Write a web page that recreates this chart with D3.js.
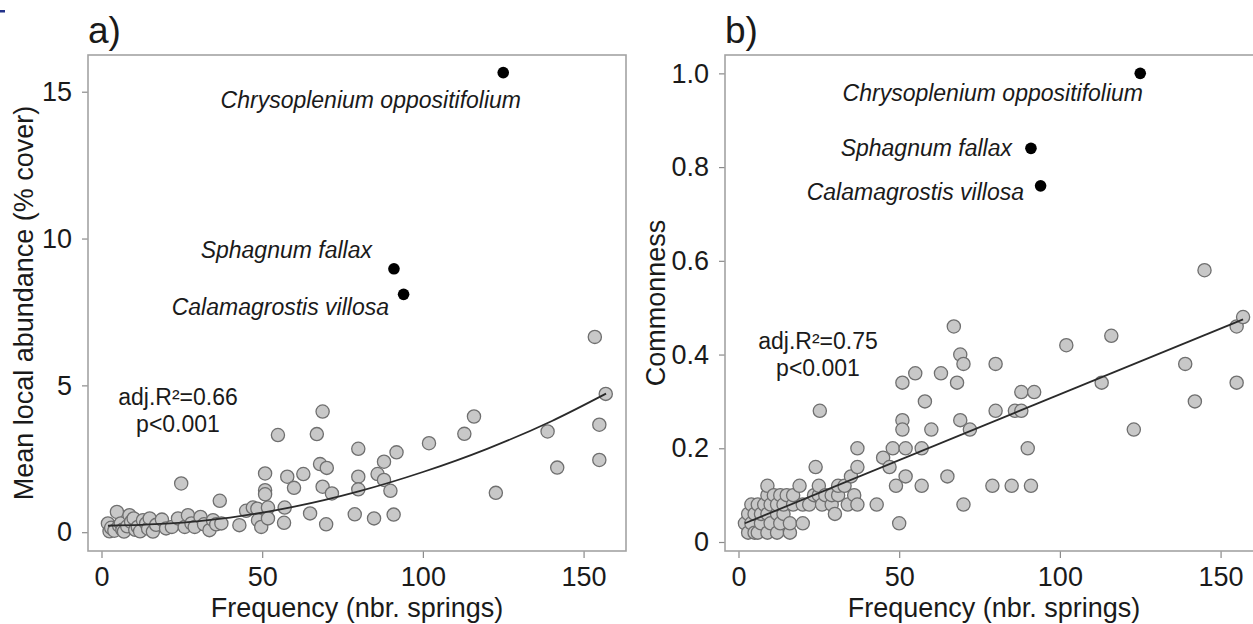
<!DOCTYPE html>
<html><head><meta charset="utf-8">
<script src="https://cdn.jsdelivr.net/npm/d3@7"></script>
<style>
body{margin:0;background:#fff}
svg{display:block}
text{font-family:"Liberation Sans",Arial,sans-serif;fill:#1a1a1a}
</style>
</head><body>
<svg id="chart" width="1253" height="624"></svg>
<script>
// ---------------- data ----------------
const xTicks = [0, 50, 100, 150];
const yTicksA = [0, 5, 10, 15];
const yTickLabelsA = ["0", "5", "10", "15"];
const yTicksB = [0, 0.2, 0.4, 0.6, 0.8, 1.0];
const yTickLabelsB = ["0", "0.2", "0.4", "0.6", "0.8", "1.0"];

// panel a: frequency vs mean local abundance (grey species)
const freqA = [2,2.5,3,4,4.8,5.5,6,6.5,7,8,8.7,9.2,10,10.5,11.3,12,12.9,13.9,14.5,15,16,17,18.8,20.1,21.9,23.8,24.8,25.9,26.9,28,29,30.8,31.9,33.6,34.7,35.7,36.8,37.3,
  42.9,45,47.1,48.5,48.7,49.7,50.9,50.9,50.9,51.8,51.8,54.9,56.8,57,57.8,59.9,62.8,64.9,67,68,68.8,68.8,69.9,70.1,71.7,
  78.8,79.9,79.9,79.9,84.8,85.9,87.9,87.9,89.9,90.9,91.8,101.9,112.9,115.9,122.7,138.8,141.8,153.5,154.9,154.9,156.9];
const abundA = [0.30,0.03,0.15,0.05,0.69,0.22,0.30,0.08,0.02,0.20,0.58,0.35,0.47,0.08,0.18,0.03,0.41,0.30,0.12,0.47,0.02,0.25,0.43,0.13,0.18,0.47,1.66,0.18,0.58,0.30,0.18,0.52,0.27,0.07,0.41,0.27,1.07,0.30,
  0.24,0.73,0.84,0.80,0.41,0.18,2.00,1.43,1.29,0.84,0.47,3.31,0.32,0.84,1.89,1.51,1.98,0.64,3.34,2.32,4.11,1.55,0.27,2.19,1.32,
  0.61,2.84,1.89,1.46,0.47,1.98,2.40,1.78,1.41,0.60,2.72,3.03,3.35,3.94,1.34,3.43,2.20,6.65,3.66,2.46,4.71];

// panel b: frequency vs commonness (grey species)
const freqB = [2,3,3,4,4,5,5,6,6,7,7,8,9,9,9,9,10,10,11,12,12,12,13,13,14,14,15,16,16,17,17,19,20,20,22,23.5,24,25,25,25.3,26,27,29,29,30,31,31,33,34,35,36,37,37,37,
  43,45,47,48,49,50,51,51,51,52,52,55,57,57,58,60,63,65,67,68,69,69,70,70,72,
  79,80,80,85,86,88,88,90,91,92,102,113,116,123,139,142,145,155,155,157];
const commonB = [0.04,0.02,0.06,0.04,0.08,0.02,0.06,0.02,0.08,0.04,0.06,0.08,0.02,0.06,0.10,0.12,0.04,0.08,0.10,0.02,0.06,0.08,0.04,0.10,0.06,0.08,0.10,0.02,0.04,0.08,0.10,0.12,0.04,0.08,0.08,0.10,0.16,0.10,0.12,0.28,0.08,0.10,0.08,0.10,0.06,0.10,0.12,0.12,0.08,0.14,0.10,0.08,0.16,0.20,
  0.08,0.18,0.16,0.20,0.12,0.04,0.34,0.26,0.24,0.20,0.14,0.36,0.20,0.12,0.30,0.24,0.36,0.14,0.46,0.34,0.26,0.40,0.38,0.08,0.24,
  0.12,0.38,0.28,0.12,0.28,0.32,0.28,0.20,0.12,0.32,0.42,0.34,0.44,0.24,0.38,0.30,0.58,0.46,0.34,0.48];

// highlighted species
const highlightNames = ["Chrysoplenium oppositifolium", "Sphagnum fallax", "Calamagrostis villosa"];
const highlightFreq = [125, 91, 94];
const highlightAbund = [15.65, 8.97, 8.1];
const highlightCommon = [1.0, 0.84, 0.76];

// fitted curves
const fitFreqA = [2, 20, 40, 60, 80, 100, 120, 140, 157];
const fitAbundA = [0.22, 0.29, 0.50, 0.87, 1.39, 2.05, 2.84, 3.78, 4.72];
const fitFreqB = [2, 157];
const fitCommonB = [0.04, 0.475];

const statsA = ["adj.R\u00B2=0.66", "p<0.001"];
const statsB = ["adj.R\u00B2=0.75", "p<0.001"];

// ---------------- layout ----------------
const svg = d3.select("#chart");
svg.append("rect").attr("x",0).attr("y",10).attr("width",5).attr("height",2.5).attr("fill","#23338a");

const panels = [
  {letter:"a)", left:88, right:626, top:55, bottom:551, xDomain:[-4.2,163.2], yDomain:[-0.64,16.25],
   ticksY:yTicksA, tickLabelsY:yTickLabelsA, xs:freqA, ys:abundA, hy:highlightAbund,
   fitX:fitFreqA, fitY:fitAbundA, curve:d3.curveMonotoneX, stats:statsA, statsX:178, statsY:405,
   yTitle:"Mean local abundance (% cover)", yTitleX:33,
   labels:[{end:521, base:108},{end:372, base:258},{end:389, base:315}]},
  {letter:"b)", left:725, right:1263, top:55, bottom:551, xDomain:[-4.2,163.2], yDomain:[-0.0192,1.0392],
   ticksY:yTicksB, tickLabelsY:yTickLabelsB, xs:freqB, ys:commonB, hy:highlightCommon,
   fitX:fitFreqB, fitY:fitCommonB, curve:d3.curveLinear, stats:statsB, statsX:818, statsY:349,
   yTitle:"Commonness", yTitleX:665,
   labels:[{end:1143, base:101},{end:1012, base:156},{end:1024, base:200}]}
];

panels.forEach(p => {
  const x = d3.scaleLinear().domain(p.xDomain).range([p.left, p.right]);
  const y = d3.scaleLinear().domain(p.yDomain).range([p.bottom, p.top]);
  const g = svg.append("g");

  // x axis
  const xa = g.append("g").attr("transform", `translate(0,${p.bottom})`)
    .call(d3.axisBottom(x).tickValues(xTicks).tickSize(7).tickPadding(9).tickFormat(d3.format("d")));
  xa.select(".domain").remove();
  xa.selectAll("line").attr("stroke","#8a8a8a").attr("stroke-width",1.2);
  xa.selectAll("text").attr("font-size",27).attr("fill","#1a1a1a").attr("font-family","Liberation Sans, Arial, sans-serif");

  // y axis
  const ya = g.append("g").attr("transform", `translate(${p.left},0)`)
    .call(d3.axisLeft(y).tickValues(p.ticksY).tickSize(6).tickPadding(10).tickFormat((d,i)=>p.tickLabelsY[i]));
  ya.select(".domain").remove();
  ya.selectAll("line").attr("stroke","#8a8a8a").attr("stroke-width",1.2);
  ya.selectAll("text").attr("font-size",27).attr("fill","#1a1a1a").attr("font-family","Liberation Sans, Arial, sans-serif");

  // box
  g.append("rect").attr("x",p.left).attr("y",p.top).attr("width",p.right-p.left).attr("height",p.bottom-p.top)
    .attr("fill","none").attr("stroke","#a3a3a3").attr("stroke-width",1.6);

  // grey points
  const pts = p.xs.map((v,i)=>[v,p.ys[i]]);
  g.append("g").selectAll("circle").data(pts).join("circle")
    .attr("cx",d=>x(d[0])).attr("cy",d=>y(d[1])).attr("r",6.6)
    .attr("fill","#c8c8c8").attr("stroke","#6f6f6f").attr("stroke-width",1.3);

  // fitted line
  const line = d3.line().x(d=>x(d[0])).y(d=>y(d[1])).curve(p.curve);
  g.append("path").datum(p.fitX.map((v,i)=>[v,p.fitY[i]])).attr("d",line)
    .attr("fill","none").attr("stroke","#2a2a2a").attr("stroke-width",1.8);

  // highlighted species
  g.append("g").selectAll("circle").data(highlightFreq.map((v,i)=>[v,p.hy[i]])).join("circle")
    .attr("cx",d=>x(d[0])).attr("cy",d=>y(d[1])).attr("r",5.8).attr("fill","#000");
  highlightNames.forEach((n,i)=>{
    g.append("text").attr("x",p.labels[i].end).attr("y",p.labels[i].base)
      .attr("text-anchor","end").attr("font-size",23).attr("font-style","italic").text(n);
  });

  // stats
  p.stats.forEach((s,i)=>{
    g.append("text").attr("x",p.statsX).attr("y",p.statsY + i*27).attr("text-anchor","middle")
      .attr("font-size",23).text(s);
  });

  // titles
  g.append("text").attr("x",(p.left+p.right)/2).attr("y",617).attr("text-anchor","middle")
    .attr("font-size",27).text("Frequency (nbr. springs)");
  g.append("text").attr("transform",`translate(${p.yTitleX},${(p.top+p.bottom)/2}) rotate(-90)`)
    .attr("text-anchor","middle").attr("font-size",27).text(p.yTitle);
  g.append("text").attr("x",p.left).attr("y",43).attr("font-size",37).text(p.letter);
});
</script>
</body></html>
